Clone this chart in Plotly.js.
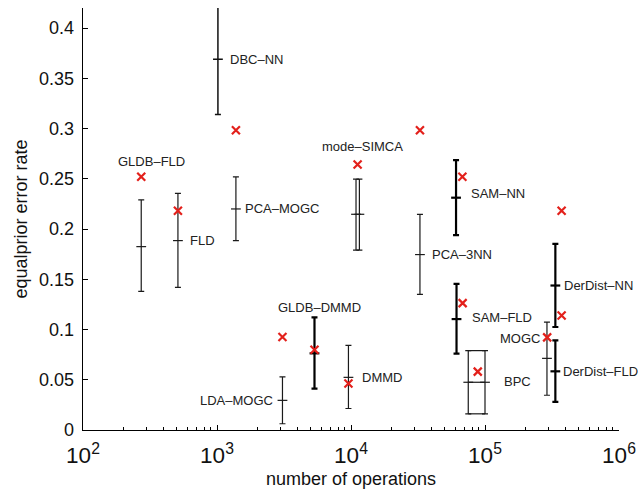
<!DOCTYPE html>
<html>
<head>
<meta charset="utf-8">
<script src="https://cdn.plot.ly/plotly-3.0.1.min.js"></script>
<style>html,body{margin:0;padding:0;background:#fff;}#chart{width:638px;height:495px;}</style>
</head>
<body>
<div id="chart"></div>
<script>
// ---- data ----
const barLabels = ['GLDB–FLD','FLD','DBC–NN','PCA–MOGC','mode–SIMCA','','PCA–3NN','SAM–NN','SAM–FLD','BPC','','MOGC','DerDist–NN','DerDist–FLD','GLDB–DMMD','LDA–MOGC','DMMD'];
const barOps    = [272, 511, 1016, 1384, 10900, 11550, 32700, 60800, 61300, 75000, 100000, 290000, 335000, 335000, 5340, 3080, 9570];
const barLow    = [0.138, 0.142, 0.314, 0.1885, 0.179, 0.179, 0.135, 0.194, 0.076, 0.0161, 0.0161, 0.0346, 0.1025, 0.028, 0.0412, 0.0062, 0.0214];
const barMid    = [0.1825, 0.1885, 0.369, 0.220, 0.2147, 0.2147, 0.1746, 0.2312, 0.1104, 0.0475, 0.0475, 0.0713, 0.1438, 0.0584, 0.0763, 0.0295, 0.0524];
const barHigh   = [0.229, 0.2355, 0.425, 0.252, 0.2497, 0.2497, 0.2147, 0.2686, 0.1455, 0.079, 0.079, 0.1074, 0.1852, 0.0892, 0.112, 0.0528, 0.0842];

const crossOps  = [272, 511, 1384, 3080, 5340, 9570, 11200, 32700, 67800, 68100, 88300, 291000, 373000, 373000];
const crossErr  = [0.252, 0.2183, 0.2984, 0.0926, 0.0799, 0.0462, 0.2643, 0.2984, 0.252, 0.1263, 0.0581, 0.0922, 0.2183, 0.114];

const xTitle = 'number of operations';
const yTitle = 'equalprior error rate';

// ---- styling / layout ----
const thick = new Set(['SAM–NN','SAM–FLD','DerDist–NN','DerDist–FLD','GLDB–DMMD']);
const semi = new Set(['DBC–NN']);

const styleOf = barLabels.map((l, i) => {
  const name = l || barLabels[i - 1];
  return thick.has(name) ? 'thick' : (semi.has(name) ? 'semi' : 'thin');
});

function group(style, width, color) {
  const idx = barLabels.map((l, i) => i).filter(i => styleOf[i] === style);
  return {
    type: 'scatter', mode: 'markers', showlegend: false, hoverinfo: 'skip',
    x: idx.map(i => barOps[i]),
    y: idx.map(i => barMid[i]),
    marker: {symbol: 'line-ew-open', size: 7, color: color, line: {width: width, color: color}},
    error_y: {type: 'data', symmetric: false,
      array: idx.map(i => barHigh[i] - barMid[i]),
      arrayminus: idx.map(i => barMid[i] - barLow[i]),
      width: 3, thickness: width, color: color}
  };
}

const traces = [
  group('thin', 1.2, '#1a1a1a'),
  group('semi', 1.5, '#111'),
  group('thick', 2.2, '#000')
];

// BPC box: horizontal lines joining its two bars
const bpc = barLabels.indexOf('BPC');
[barHigh, barMid, barLow].forEach(arr => {
  traces.push({type: 'scatter', mode: 'lines', showlegend: false, hoverinfo: 'skip',
    x: [barOps[bpc], barOps[bpc + 1]], y: [arr[bpc], arr[bpc + 1]],
    line: {color: '#1a1a1a', width: 1.2}});
});

traces.push({
  type: 'scatter', mode: 'markers', showlegend: false, hoverinfo: 'skip',
  x: crossOps, y: crossErr,
  marker: {symbol: 'x-thin', size: 8, color: '#e3201b', line: {width: 2.2, color: '#e3201b'}}
});

// label placement: [anchor, xshift, yshift, xanchor]
const place = {
  'GLDB–FLD':   ['top', 10, 38, 'center'],
  'FLD':        ['mid', 10, 0, 'left'],
  'DBC–NN':     ['mid', 10, 0, 'left'],
  'PCA–MOGC':   ['mid', 7, 0, 'left'],
  'mode–SIMCA': ['top', 6, 33, 'center'],
  'PCA–3NN':    ['mid', 10, 0, 'left'],
  'SAM–NN':     ['mid', 13, 4, 'left'],
  'SAM–FLD':    ['mid', 13, 2, 'left'],
  'BPC':        ['mid', 34, 1, 'left'],
  'MOGC':       ['top', -5, -16, 'right'],
  'DerDist–NN': ['mid', 7, 0, 'left'],
  'DerDist–FLD':['mid', 6, 0, 'left'],
  'GLDB–DMMD':  ['top', 5, 10, 'center'],
  'LDA–MOGC':   ['mid', -7, 0, 'right'],
  'DMMD':       ['mid', 12, 0, 'left']
};
const annotations = [];
barLabels.forEach((l, i) => {
  if (!l || !place[l]) return;
  const p = place[l];
  annotations.push({
    x: Math.log10(barOps[i]), y: p[0] === 'top' ? barHigh[i] : barMid[i],
    xref: 'x', yref: 'y', text: l, showarrow: false,
    xshift: p[1], yshift: p[2], xanchor: p[3], yanchor: 'middle',
    font: {size: 13, color: '#222'}
  });
});
// x-axis title (placed as paper annotation so it can sit below the lowered tick labels)
annotations.push({
  x: 0.5, y: 0, xref: 'paper', yref: 'paper', text: xTitle, showarrow: false,
  xanchor: 'center', yanchor: 'middle', yshift: -49,
  font: {size: 18, color: '#111'}
});

const layout = {
  width: 638, height: 495,
  margin: {l: 83, r: 19, t: 8, b: 65},
  paper_bgcolor: '#fff', plot_bgcolor: '#fff',
  font: {family: 'Liberation Sans, Arial, sans-serif', color: '#111'},
  showlegend: false,
  xaxis: {
    type: 'log', range: [2, 6], dtick: 1, exponentformat: 'power',
    ticks: 'inside', ticklen: 5, tickwidth: 1, tickcolor: '#000',
    minor: {ticks: 'inside', ticklen: 3, tickwidth: 1, tickcolor: '#000', dtick: 'D1', showgrid: false},
    showline: true, linecolor: '#000', linewidth: 1.3, mirror: false,
    showgrid: false, zeroline: false,
    ticklabelstandoff: 6,
    tickfont: {size: 18, color: '#111'}
  },
  yaxis: {
    range: [0, 0.42], dtick: 0.05, tick0: 0,
    ticks: 'inside', ticklen: 5, tickwidth: 1, tickcolor: '#000',
    showline: true, linecolor: '#000', linewidth: 1.3, mirror: false,
    showgrid: false, zeroline: false,
    ticklabelstandoff: 4,
    tickfont: {size: 18, color: '#111'},
    title: {text: yTitle, font: {size: 18, color: '#111'}, standoff: 6}
  },
  annotations: annotations
};

Plotly.newPlot('chart', traces, layout, {displayModeBar: false, staticPlot: true});
</script>
</body>
</html>
